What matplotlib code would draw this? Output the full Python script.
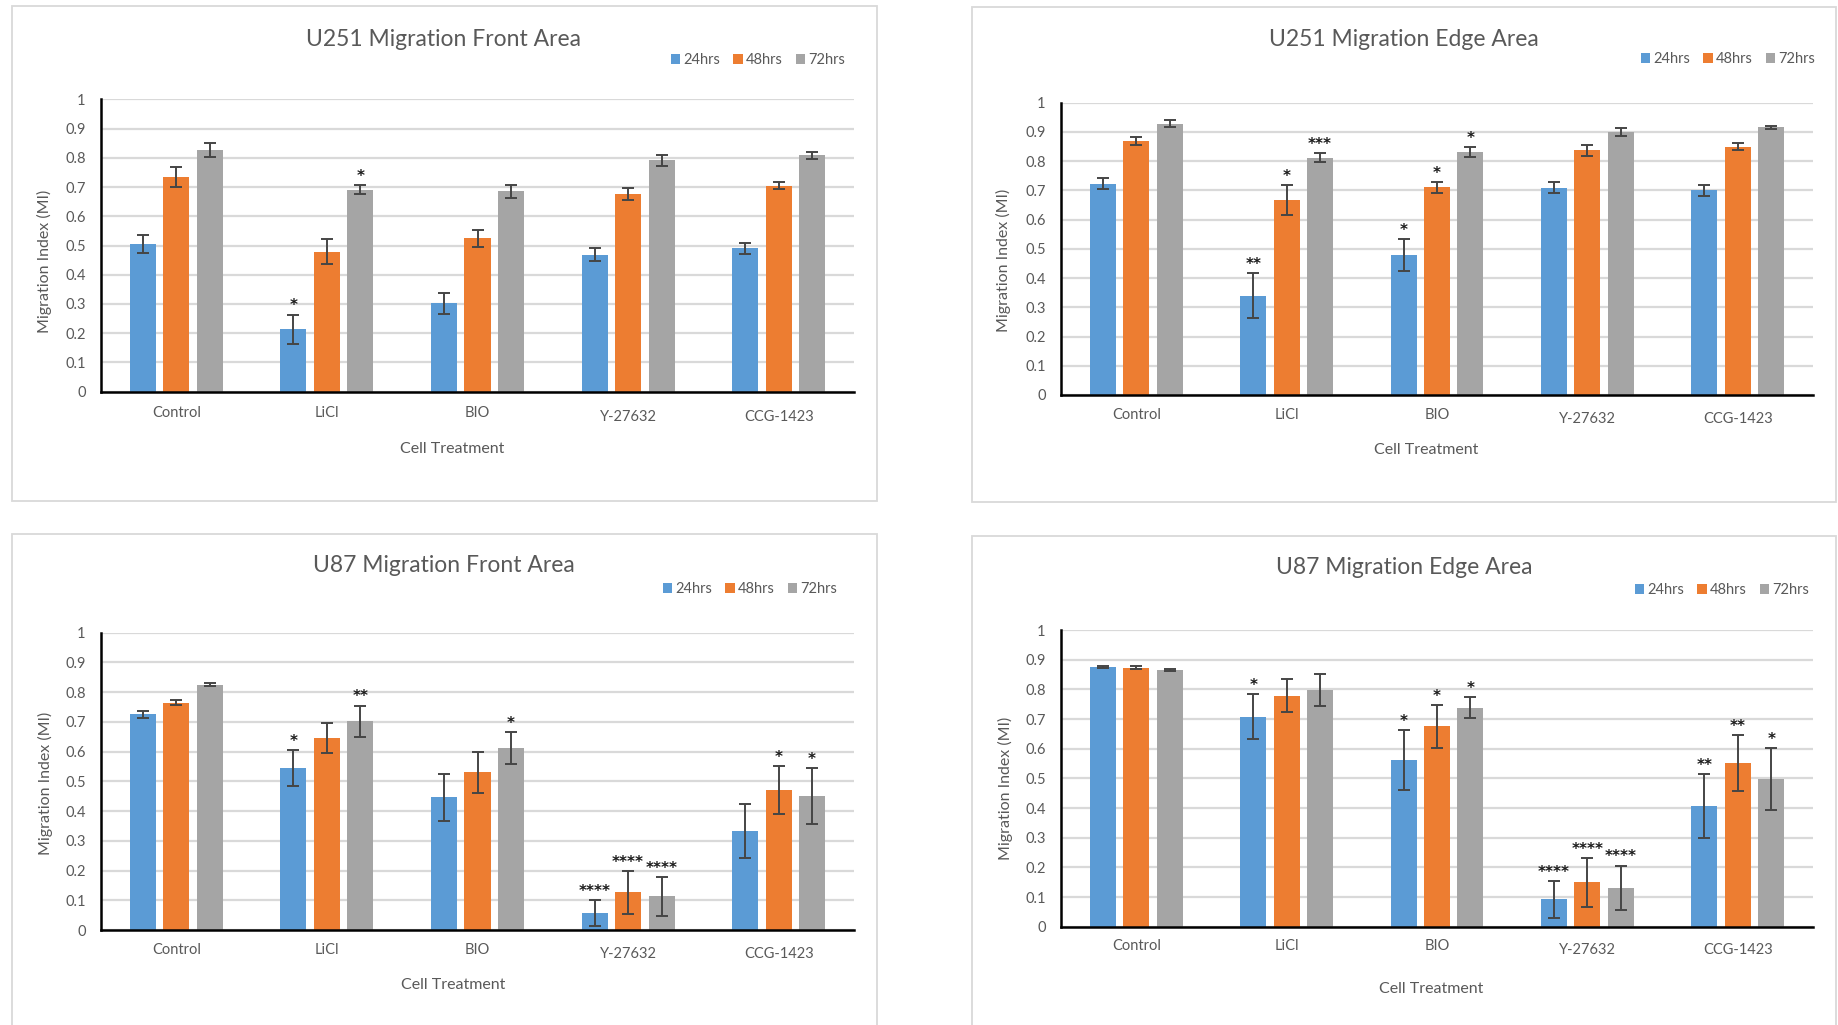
import numpy as np
import matplotlib
matplotlib.use('Agg')
import matplotlib.pyplot as plt
from matplotlib.patches import Rectangle
from matplotlib.transforms import blended_transform_factory

plt.rcParams['font.family'] = ['Lato', 'DejaVu Sans']

# Treatments and time points
categories = ['Control', 'LiCl', 'BIO', 'Y-27632', 'CCG-1423']
series = ['24hrs', '48hrs', '72hrs']
colors = ['#5B9BD5', '#ED7D31', '#A5A5A5']

# U251 front area (rows = 24h, 48h, 72h)
u251_front_mean = [[0.505, 0.213, 0.302, 0.469, 0.490],
                   [0.735, 0.479, 0.524, 0.675, 0.705],
                   [0.828, 0.691, 0.685, 0.791, 0.808]]
u251_front_err = [[0.030, 0.051, 0.037, 0.021, 0.019],
                  [0.034, 0.043, 0.028, 0.021, 0.012],
                  [0.024, 0.016, 0.023, 0.020, 0.012]]
u251_front_sig = [['', '*', '', '', ''],
                  ['', '', '', '', ''],
                  ['', '*', '', '', '']]

# U251 edge area
u251_edge_mean = [[0.723, 0.340, 0.478, 0.709, 0.700],
                  [0.869, 0.667, 0.710, 0.836, 0.848],
                  [0.928, 0.811, 0.831, 0.900, 0.915]]
u251_edge_err = [[0.020, 0.076, 0.054, 0.020, 0.019],
                 [0.014, 0.050, 0.018, 0.018, 0.012],
                 [0.012, 0.016, 0.016, 0.013, 0.005]]
u251_edge_sig = [['', '**', '*', '', ''],
                 ['', '*', '*', '', ''],
                 ['', '***', '*', '', '']]

# U87 front area
u87_front_mean = [[0.725, 0.544, 0.446, 0.058, 0.333],
                  [0.765, 0.645, 0.530, 0.127, 0.471],
                  [0.825, 0.702, 0.612, 0.113, 0.451]]
u87_front_err = [[0.011, 0.060, 0.080, 0.043, 0.090],
                 [0.008, 0.050, 0.068, 0.072, 0.081],
                 [0.005, 0.053, 0.054, 0.066, 0.094]]
u87_front_sig = [['', '*', '', '****', ''],
                 ['', '', '', '****', '*'],
                 ['', '**', '*', '****', '*']]

# U87 edge area
u87_edge_mean = [[0.874, 0.708, 0.561, 0.092, 0.406],
                 [0.872, 0.779, 0.675, 0.150, 0.552],
                 [0.866, 0.798, 0.738, 0.131, 0.497]]
u87_edge_err = [[0.003, 0.075, 0.101, 0.063, 0.107],
                [0.005, 0.056, 0.073, 0.082, 0.094],
                [0.004, 0.054, 0.035, 0.075, 0.104]]
u87_edge_sig = [['', '*', '*', '****', '**'],
                ['', '', '*', '****', '**'],
                ['', '', '*', '****', '*']]

W, H = 1838, 1025
TXT = '#595959'

fig = plt.figure(figsize=(W / 100, H / 100), dpi=100)


def fx(x):
    return x / W


def fy(y):
    return 1 - y / H


def draw_panel(title, mean, err, sig, box, axbox, title_xy, legend_xy, xlabel_xy, ylabel_xy, tick_y):
    # light frame around each chart
    bx0, by0, bx1, by1 = box
    fig.patches.append(Rectangle((fx(bx0), fy(by1)), (bx1 - bx0) / W, (by1 - by0) / H,
                                 transform=fig.transFigure, fill=False,
                                 ec='#D9D9D9', lw=1.3))

    x0, y0, x1, y1 = axbox
    ax = fig.add_axes([fx(x0), fy(y1), (x1 - x0) / W, (y1 - y0) / H])

    x = np.arange(len(categories))
    step, width = 0.222, 0.173
    handles = []
    for i in range(len(series)):
        pos = x + (i - 1) * step
        b = ax.bar(pos, mean[i], width, color=colors[i], label=series[i], zorder=2)
        handles.append(b)
        ax.errorbar(pos, mean[i], yerr=err[i], fmt='none', ecolor='#454545',
                    elinewidth=1.4, capsize=4, capthick=1.4, zorder=3)
        for p, m, e, s in zip(pos, mean[i], err[i], sig[i]):
            if s:
                ax.annotate(s, (p, m + e), xytext=(0, 3), textcoords='offset points',
                            ha='center', va='baseline', fontsize=11, fontweight='bold',
                            family='DejaVu Sans', color='#1a1a1a', zorder=4)

    ax.set_xlim(-0.5, len(categories) - 0.5)
    ax.set_ylim(0, 1)
    ax.set_yticks(np.arange(0, 1.01, 0.1))
    ax.set_yticklabels(['0' if v == 0 else ('1' if v == 10 else f'0.{v}') for v in range(11)])
    ax.tick_params(axis='y', length=0, pad=11, labelsize=10.5, labelcolor=TXT)
    ax.set_xticks([])
    ax.yaxis.grid(True, color='#D9D9D9', lw=1.6)
    ax.set_axisbelow(True)
    for side in ['top', 'right']:
        ax.spines[side].set_visible(False)
    for side in ['left', 'bottom']:
        ax.spines[side].set_color('black')
        ax.spines[side].set_linewidth(1.8)
        ax.spines[side].set_zorder(5)

    # category labels (the hyphenated names sit a little lower)
    tr = blended_transform_factory(ax.transData, fig.transFigure)
    for i, c in enumerate(categories):
        yy = tick_y + (4 if '-' in c else 0)
        ax.text(i, fy(yy), c, transform=tr, ha='center', va='center',
                fontsize=10.5, color=TXT)

    fig.text(fx(title_xy[0]), fy(title_xy[1]), title, ha='center', va='center',
             fontsize=16.5, color=TXT)
    fig.text(fx(xlabel_xy[0]), fy(xlabel_xy[1]), 'Cell Treatment', ha='center', va='center',
             fontsize=11.5, color=TXT)
    fig.text(fx(ylabel_xy[0]), fy(ylabel_xy[1]), 'Migration Index (MI)', ha='center',
             va='center', rotation=90, fontsize=11.5, color=TXT)

    ax.legend(handles, series, loc='center', bbox_to_anchor=(fx(legend_xy[0]), fy(legend_xy[1])),
              bbox_transform=fig.transFigure, ncol=3, frameon=False, fontsize=10.5,
              handlelength=0.65, handleheight=0.65, handletextpad=0.2, columnspacing=0.9,
              labelcolor=TXT)
    return ax


draw_panel('U251 Migration Front Area', u251_front_mean, u251_front_err, u251_front_sig,
           box=(12, 6, 877, 501), axbox=(101, 99.3, 854, 391.7),
           title_xy=(444, 39), legend_xy=(758, 60), xlabel_xy=(452, 449),
           ylabel_xy=(44, 261), tick_y=413)

draw_panel('U251 Migration Edge Area', u251_edge_mean, u251_edge_err, u251_edge_sig,
           box=(972, 7, 1836, 502), axbox=(1061, 102.5, 1813, 395),
           title_xy=(1404, 39), legend_xy=(1728, 59), xlabel_xy=(1426, 450),
           ylabel_xy=(1003, 260), tick_y=415)

draw_panel('U87 Migration Front Area', u87_front_mean, u87_front_err, u87_front_sig,
           box=(12, 534, 877, 1040), axbox=(101, 632.7, 854, 930),
           title_xy=(444, 566), legend_xy=(750, 589), xlabel_xy=(453, 985),
           ylabel_xy=(45, 783), tick_y=950)

draw_panel('U87 Migration Edge Area', u87_edge_mean, u87_edge_err, u87_edge_sig,
           box=(972, 536, 1836, 1040), axbox=(1061, 630, 1813, 926.7),
           title_xy=(1404, 567), legend_xy=(1722, 590), xlabel_xy=(1431, 989),
           ylabel_xy=(1005, 788), tick_y=946)

fig.savefig('out.png', dpi=100, facecolor='white')
